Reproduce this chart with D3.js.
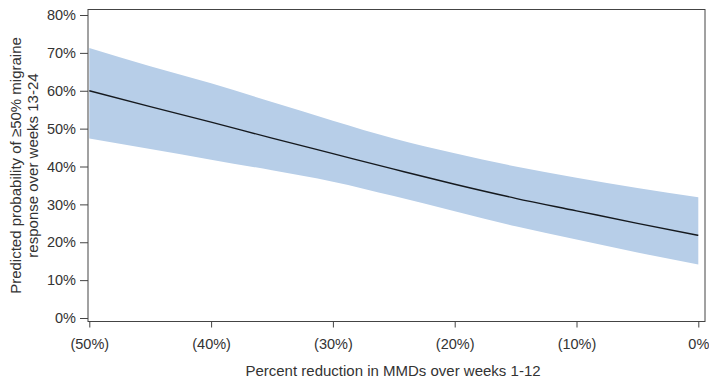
<!DOCTYPE html>
<html>
<head>
<meta charset="utf-8">
<script src="https://cdn.jsdelivr.net/npm/d3@7"></script>
<style>
  body { margin: 0; background: #fff; }
  text { font-family: "Liberation Sans", Arial, sans-serif; fill: #333; }
</style>
</head>
<body>
<div id="chart"></div>
<script>
// Percent reduction in MMDs (negative = reduction)
const reduction = [-50, -45, -40, -35, -30, -25, -20, -15, -10, -5, 0];
const predicted = [0.600, 0.558, 0.517, 0.475, 0.434, 0.393, 0.353, 0.316, 0.283, 0.250, 0.218];
const upperCI = [0.713, 0.665, 0.620, 0.570, 0.521, 0.474, 0.435, 0.400, 0.370, 0.343, 0.319];
const lowerCI = [0.474, 0.446, 0.418, 0.390, 0.360, 0.322, 0.282, 0.242, 0.207, 0.173, 0.141];

const xTicks = [-50, -40, -30, -20, -10, 0];
const yTicks = [0, 0.1, 0.2, 0.3, 0.4, 0.5, 0.6, 0.7, 0.8];
const xTitle = "Percent reduction in MMDs over weeks 1-12";
const yTitle = ["Predicted probability of \u226550% migraine", "response over weeks 13-24"];

const width = 709;
const height = 379;
// frame of the plot area
const frame = { left: 88, right: 705, top: 9.5, bottom: 321.5 };

const svg = d3.select("#chart")
  .append("svg")
  .attr("width", width)
  .attr("height", height);

const x = d3.scaleLinear().domain([-50, 0]).range([89.3, 698.3]);
const y = d3.scaleLinear().domain([0, 0.8]).range([318, 15]);

const rows = reduction.map((r, i) => ({
  r, p: predicted[i], lo: lowerCI[i], hi: upperCI[i]
}));

// confidence band
svg.append("path")
  .datum(rows)
  .attr("fill", "#b7cee8")
  .attr("d", d3.area()
    .curve(d3.curveMonotoneX)
    .x((d) => x(d.r))
    .y0((d) => y(d.lo))
    .y1((d) => y(d.hi)));

// predicted line
svg.append("path")
  .datum(rows)
  .attr("fill", "none")
  .attr("stroke", "#15191e")
  .attr("stroke-width", 1.4)
  .attr("d", d3.line()
    .curve(d3.curveMonotoneX)
    .x((d) => x(d.r))
    .y((d) => y(d.p)));

// frame
svg.append("rect")
  .attr("x", frame.left)
  .attr("y", frame.top)
  .attr("width", frame.right - frame.left)
  .attr("height", frame.bottom - frame.top)
  .attr("fill", "none")
  .attr("stroke", "#444")
  .attr("stroke-width", 1);

const pctFmt = (d) => `${Math.round(d * 100)}%`;
const redFmt = (d) => (d < 0 ? `(${-d}%)` : `${d}%`);

const yAxis = svg.append("g")
  .attr("transform", `translate(${frame.left}, 0)`)
  .call(d3.axisLeft(y).tickValues(yTicks).tickFormat(pctFmt).tickSize(8).tickPadding(4));

const xAxis = svg.append("g")
  .attr("transform", `translate(0, ${frame.bottom})`)
  .call(d3.axisBottom(x).tickValues(xTicks).tickFormat(redFmt).tickSize(6).tickPadding(11));

[yAxis, xAxis].forEach((g) => {
  g.select(".domain").remove();
  g.selectAll(".tick line").attr("stroke", "#444");
  g.selectAll(".tick text")
    .attr("fill", "#333")
    .style("font-size", "14.5px")
    .style("font-family", "'Liberation Sans', Arial, sans-serif");
});

// axis titles
svg.append("text")
  .attr("x", 393)
  .attr("y", 376)
  .attr("text-anchor", "middle")
  .style("font-size", "15px")
  .text(xTitle);

const yc = (frame.top + frame.bottom) / 2;
yTitle.forEach((line, i) => {
  svg.append("text")
    .attr("transform", `translate(${21 + i * 16.5}, ${yc}) rotate(-90)`)
    .attr("text-anchor", "middle")
    .style("font-size", "15px")
    .text(line);
});
</script>
</body>
</html>
